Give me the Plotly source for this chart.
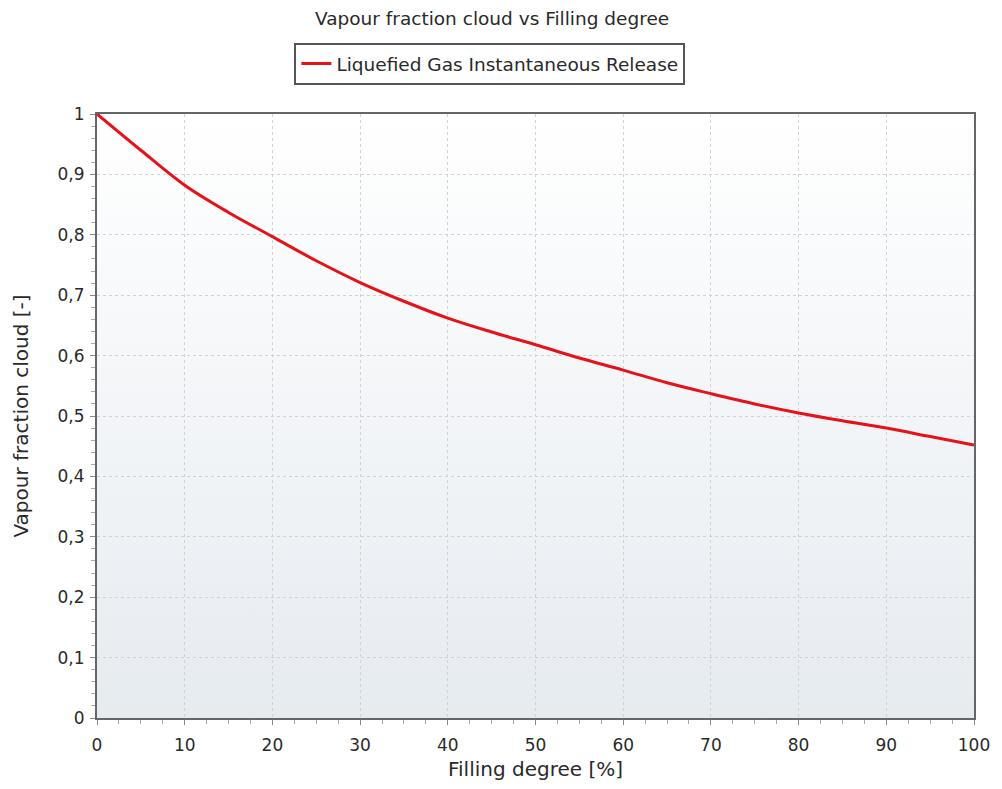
import base64
import plotly.graph_objects as go

# Datos
grado_llenado = [0, 5, 10, 15, 20, 25, 30, 35, 40, 45, 50, 55, 60, 65, 70, 75, 80, 85, 90, 95, 100]
fraccion_vapor = [1.0, 0.940, 0.882, 0.837, 0.797, 0.757, 0.721, 0.690, 0.662, 0.639, 0.618, 0.596, 0.576, 0.555, 0.537, 0.520, 0.505, 0.492, 0.480, 0.466, 0.452]

fig = go.Figure()

fig.add_trace(go.Scatter(
    x=grado_llenado,
    y=fraccion_vapor,
    mode='lines',
    name='Liquefied Gas Instantaneous Release',
    line=dict(color='#e5121a', width=3, shape='spline'),
))

# Fondo degradado del área del gráfico
svg = ('<svg xmlns="http://www.w3.org/2000/svg" width="100" height="100" preserveAspectRatio="none">'
       '<defs><linearGradient id="g" x1="0" y1="0" x2="0" y2="1">'
       '<stop offset="0" stop-color="#ffffff"/><stop offset="1" stop-color="#e6ebf0"/>'
       '</linearGradient></defs><rect width="100" height="100" fill="url(#g)"/></svg>')
svg_uri = 'data:image/svg+xml;base64,' + base64.b64encode(svg.encode()).decode()

# la página añade 8 px de margen, así que la figura es algo más pequeña
fig.update_layout(
    width=994, height=781,
    margin=dict(l=88, r=27, t=106, b=71),
    paper_bgcolor='white',
    plot_bgcolor='rgba(0,0,0,0)',
    separators=',.',
    font=dict(family='DejaVu Sans', size=17, color='#2a2a2a'),
    title=dict(text='Vapour fraction cloud vs Filling degree', x=0.487, xanchor='center',
               y=0.987, yanchor='middle', font=dict(size=18.5, color='#2a2a2a')),
    showlegend=True,
    legend=dict(orientation='h', x=0.448, xanchor='center', y=1.083, yanchor='middle',
                bordercolor='#555555', borderwidth=2, bgcolor='white',
                font=dict(size=18.5, color='#2a2a2a')),
    images=[dict(source=svg_uri, xref='paper', yref='paper', x=0, y=1, sizex=1, sizey=1,
                 xanchor='left', yanchor='top', sizing='stretch', layer='below')],
)

fig.update_xaxes(
    title_text='Filling degree [%]', title_standoff=8,
    range=[0, 100], dtick=10, ticklabelstandoff=6,
    showgrid=True, gridcolor='#cfd3d6', griddash='dot', gridwidth=1,
    showline=True, linecolor='#666666', linewidth=2, mirror=True,
    ticks='outside', ticklen=5, tickcolor='#888888',
    minor=dict(dtick=2.5, ticks='outside', ticklen=4, tickcolor='#aaaaaa', showgrid=False),
    zeroline=False,
)

fig.update_yaxes(
    title_text='Vapour fraction cloud [-]', title_standoff=24,
    range=[0, 1], dtick=0.1, ticklabelstandoff=2,
    showgrid=True, gridcolor='#cfd3d6', griddash='dot', gridwidth=1,
    showline=True, linecolor='#666666', linewidth=2, mirror=True,
    ticks='outside', ticklen=5, tickcolor='#888888',
    minor=dict(dtick=0.02, ticks='outside', ticklen=4, tickcolor='#aaaaaa', showgrid=False),
    zeroline=False,
)

fig.write_html('out.html')
